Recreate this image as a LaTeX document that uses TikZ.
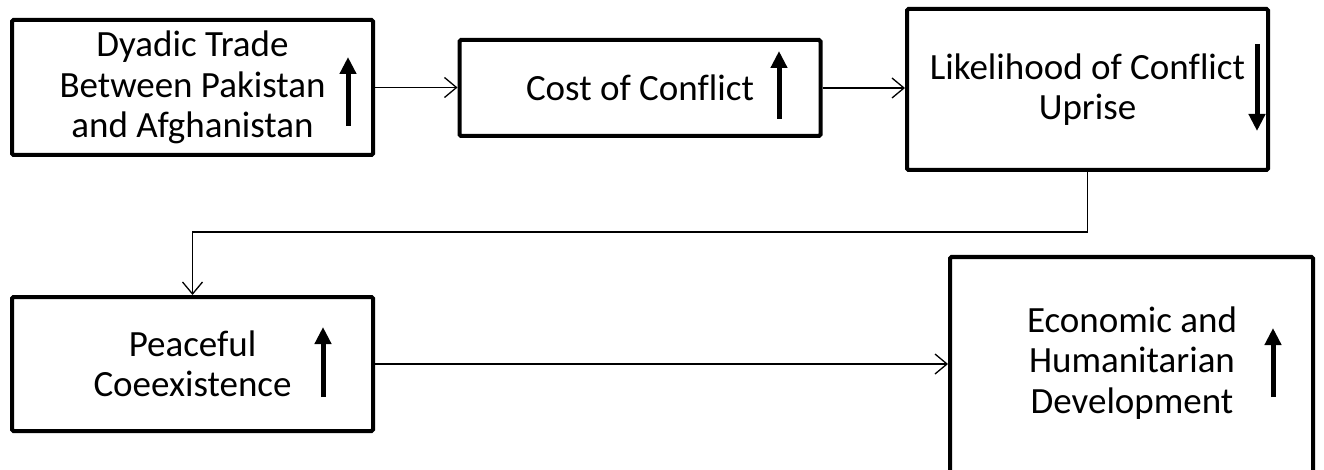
\documentclass[tikz,border=0pt]{standalone}
\usepackage{fontspec}
\setmainfont{Carlito}[Ligatures=NoCommon]
\usetikzlibrary{arrows.meta, calc}

\begin{document}
\begin{tikzpicture}[x=1pt, y=-1pt, >={Straight Barb[length=12pt,width=20pt]},
    box/.style={draw, line width=4pt, rounded corners=1.5pt, align=center, inner sep=0pt, minimum width=361pt},
    txt/.style={font=\fontsize{37}{40.5}\selectfont},
    flow/.style={->, line width=1.3pt},
    trend/.style={-{Triangle[length=17pt,width=16pt]}, line width=5pt}]
        \path[use as bounding box, clip] (0,0) rectangle (1324,470);

        % top row
        \node[box, txt, minimum height=135pt] (trade) at (192.5, 87.5) {Dyadic Trade\\Between Pakistan\\and Afghanistan};
        \node[box, txt, minimum height=96pt] (cost) at (640, 88) {Cost of Conflict};
        \node[box, txt, minimum height=161pt] (likely) at (1087.5, 89.5) {Likelihood of Conflict\\Uprise};

        % bottom row
        \node[box, txt, minimum height=134pt] (peace) at (192.5, 364) {Peaceful\\Coeexistence};
        \node[box, minimum width=363pt, minimum height=243pt] (econ) at (1131.5, 378.5) {};
        \node[txt, align=center] (econtext) at (1132, 363) {Economic and\\Humanitarian\\Development};

        % up / down marks
        \draw[trend] (348, 126) -- (348, 57);
        \draw[trend] (779, 119) -- (779, 51);
        \draw[trend] (1257, 44) -- (1257, 131);
        \draw[trend] (323, 397) -- (323, 327);
        \draw[trend] (1273, 397) -- (1273, 328);

        % connectors
        \draw[flow] (trade.east) -- (trade.east -| cost.west);
        \draw[flow] (cost.east) -- (cost.east -| likely.west);
        \draw[flow] (likely.south) -- ++(0,60) -| (peace.north);
        \draw[flow] (peace.east) -- (peace.east -| econ.west);
\end{tikzpicture}
\end{document}
